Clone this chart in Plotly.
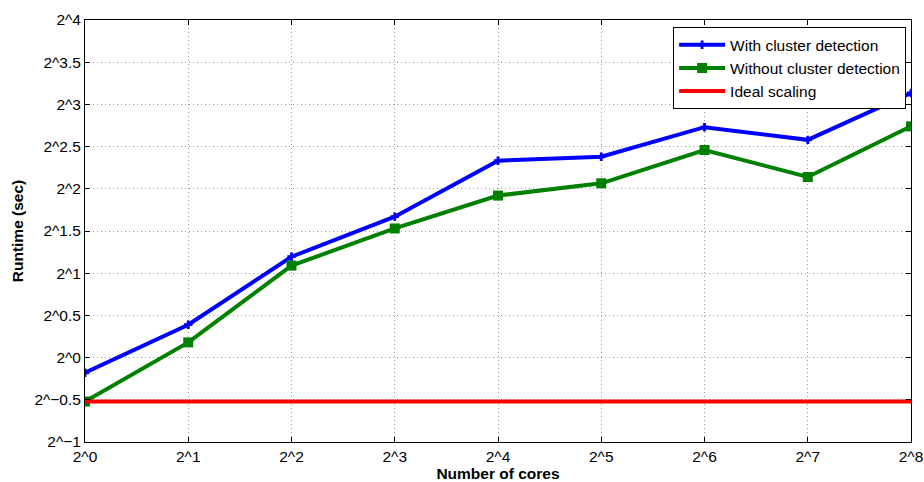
import plotly.graph_objects as go

cores = [1, 2, 4, 8, 16, 32, 64, 128, 256]
with_cluster = [0.883, 1.310, 2.290, 3.182, 5.039, 5.205, 6.635, 5.979, 8.785]
without_cluster = [0.697, 1.133, 2.129, 2.888, 3.784, 4.184, 5.502, 4.407, 6.681]
ideal = [0.697] * len(cores)

x_tickvals = [2 ** k for k in range(9)]
x_ticktext = ["2^%d" % k for k in range(9)]
y_exps = [-1, -0.5, 0, 0.5, 1, 1.5, 2, 2.5, 3, 3.5, 4]
y_tickvals = [2 ** e for e in y_exps]
y_ticktext = ["2^" + (("%g" % e).replace("-", "\u2212")) for e in y_exps]

FONT = "Liberation Sans, Arial, Helvetica"

fig = go.Figure()
fig.add_trace(go.Scatter(x=cores, y=with_cluster, mode="lines+markers",
                         name="With cluster detection",
                         line=dict(color="#0000ff", width=4),
                         marker=dict(symbol="cross", size=7, color="#0000ff")))
fig.add_trace(go.Scatter(x=cores, y=without_cluster, mode="lines+markers",
                         name="Without cluster detection",
                         line=dict(color="#008000", width=4),
                         marker=dict(symbol="square", size=10, color="#008000")))
fig.add_trace(go.Scatter(x=cores, y=ideal, mode="lines",
                         name="Ideal scaling",
                         line=dict(color="#ff0000", width=4)))

axis_common = dict(
    showline=True, linecolor="black", linewidth=1, mirror="ticks",
    ticks="inside", ticklen=5, tickcolor="black",
    showgrid=True, gridcolor="#9a9a9a", griddash="1px,3px", gridwidth=1,
    zeroline=False, automargin=False, ticklabeloverflow="allow",
    tickfont=dict(family=FONT, size=15.5, color="black"),
)

fig.update_xaxes(type="log", range=[0, 8 * 0.30103], tickvals=x_tickvals,
                 ticktext=x_ticktext,
                 title=dict(text="<b>Number of cores</b>", standoff=2,
                            font=dict(family=FONT, size=15.5, color="black")),
                 **axis_common)
fig.update_yaxes(type="log", range=[-1 * 0.30103, 4 * 0.30103], tickvals=y_tickvals,
                 ticktext=y_ticktext,
                 title=dict(text="<b>Runtime (sec)</b>", standoff=6,
                            font=dict(family=FONT, size=15.5, color="black")),
                 **axis_common)

fig.update_layout(
    width=924, height=482,
    margin=dict(l=85, r=13, t=20, b=40),
    plot_bgcolor="white", paper_bgcolor="white",
    font=dict(family=FONT, size=15.5, color="black"),
    legend=dict(x=0.712, y=0.983, xanchor="left", yanchor="top",
                bgcolor="white", bordercolor="black", borderwidth=1,
                font=dict(family=FONT, size=15.5), tracegroupgap=0, itemwidth=46),
    showlegend=True,
)

# remove the default page margin so the 924x482 figure fills the window exactly
fig.write_html(
    "out.html",
    config={"displayModeBar": False},
    post_script="document.body.style.margin='0';"
                "document.documentElement.style.overflow='hidden';",
)
